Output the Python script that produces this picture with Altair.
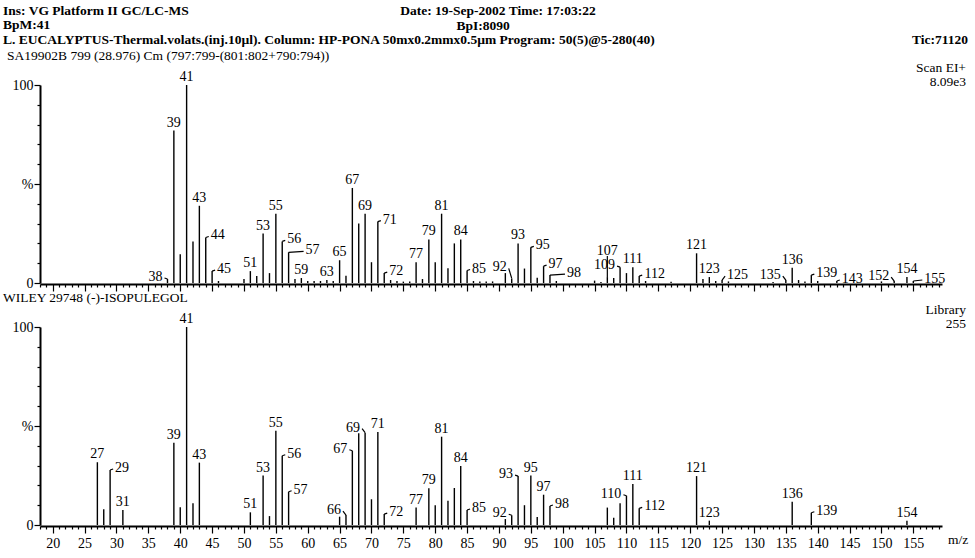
import altair as alt
import pandas as pd

# ---------------- data ----------------
sample_mz = [38, 39, 40, 41, 42, 43, 44, 45, 46, 50, 51, 52, 53, 54, 55, 56, 57, 58, 59, 60,
             61, 62, 63, 64, 65, 66, 67, 68, 69, 70, 71, 72, 73, 74, 75, 76, 77, 78, 79, 80,
             81, 82, 83, 84, 85, 86, 87, 88, 89, 91, 92, 93, 94, 95, 96, 97, 98, 99, 105, 106,
             107, 108, 109, 110, 111, 112, 113, 117, 121, 122, 123, 124, 125, 126, 133, 135, 136, 137, 138, 139,
             140, 143, 150, 152, 154, 155]
sample_int = [2, 77, 14.5, 100, 21, 39, 23, 6, 1, 2, 6, 3.5, 25, 5, 35, 21, 15.5, 2, 2.5, 1,
              1, 1, 1.5, 1, 11.5, 3.7, 48, 30, 35, 10.5, 31, 5, 1.5, 1, 0.7, 0.7, 10.5, 2, 22, 10.5,
              35, 7.5, 20, 22, 6.3, 1, 0.8, 0.8, 0.8, 5, 2.3, 20, 7.3, 18, 2.7, 8.5, 4, 1, 1.2, 0.5,
              3, 2.5, 8, 5, 8, 3.5, 1, 0.6, 15, 2, 3, 1, 1.5, 0.8, 0.5, 1.5, 7.7, 1.5, 0.8, 4,
              1, 1, 0.8, 1, 3, 1]
sample_labels = [38, 39, 41, 43, 44, 45, 51, 53, 55, 56, 57, 59, 63, 65, 67, 69, 71, 72, 77, 79,
                 81, 84, 85, 92, 93, 95, 97, 98, 107, 109, 111, 112, 121, 123, 125, 135, 136, 139,
                 143, 152, 154, 155]

lib_mz = [27, 28, 29, 31, 39, 40, 41, 42, 43, 51, 53, 54, 55, 56, 57, 65, 66, 67, 68, 69,
          70, 71, 72, 77, 79, 80, 81, 82, 83, 84, 85, 91, 92, 93, 94, 95, 96, 97, 98, 107,
          108, 109, 110, 111, 112, 121, 123, 136, 139, 154]
lib_int = [31.7, 8, 27.8, 7.6, 41.6, 9, 100, 11, 31.5, 6.4, 25, 4.5, 47.6, 35, 16.8, 4.2, 5, 37.5, 46.3, 46.6,
           13, 47, 5.5, 8.8, 18.5, 10, 44.6, 12.3, 18.7, 29.8, 7.6, 3, 4.9, 24.7, 10, 25, 4, 15.3, 9.6, 8.8,
           3.7, 11, 14.8, 20.7, 8.4, 24.7, 2.2, 11.8, 6.2, 2.2]
lib_labels = [27, 29, 31, 39, 41, 43, 51, 53, 55, 56, 57, 66, 67, 69, 71, 72, 77, 79, 81, 84,
              85, 92, 93, 95, 97, 98, 110, 111, 112, 121, 123, 136, 139, 154]

x_ticks = list(range(18, 160))
y_ticks = list(range(0, 101, 10))

hdr_ins = "Ins: VG Platform II GC/LC-MS"
hdr_bpm = "BpM:41"
hdr_sample = "L. EUCALYPTUS-Thermal.volats.(inj.10µl). Column: HP-PONA 50mx0.2mmx0.5µm Program: 50(5)@5-280(40)"
hdr_scan = "SA19902B 799 (28.976) Cm (797:799-(801:802+790:794))"
hdr_date = "Date: 19-Sep-2002 Time: 17:03:22"
hdr_bpi = "BpI:8090"
hdr_tic = "Tic:71120"
hdr_mode = "Scan EI+"
hdr_max = "8.09e3"
lib_title = "WILEY 29748 (-)-ISOPULEGOL"
lib_tag = "Library"
lib_max = "255"
x_unit = "m/z"

# ---------------- layout ----------------
W, H = 975, 558
X0, X1 = 40, 942
MZ0, MZ1 = 18, 159.5
TOP = (283, 85)
BOT = (525, 327)
FONT = "Liberation Serif"
LABEL_SIZE = 14
CHAR_W = 7.0
LABEL_H = 11.0
PX_PER_MZ = (X1 - X0) / (MZ1 - MZ0)
PX_PER_PCT = (TOP[0] - TOP[1]) / 100.0


def place_labels(mzs, ints, labelled):
    hpx = {m: v * PX_PER_PCT for m, v in zip(mzs, ints)}
    xpx = {m: (m - MZ0) * PX_PER_MZ for m in mzs}
    order = sorted(labelled, key=lambda m: (-hpx[m], -m))
    boxes, labels, leaders = [], [], []
    for m in order:
        p, h = xpx[m], hpx[m]
        w = CHAR_W * len(str(m)) + 2
        side = w / 2 + 4
        cands = []
        for dx in [0, side, -side, side + 6, -(side + 6), side + 12, -(side + 12)]:
            for dy in range(-2, 70, 3):
                if dx == 0 and dy < 2:
                    continue
                cost = dy + 0.6 * abs(dx) + (1.5 if dx < 0 else 0)
                cands.append((cost, dx, dy))
        cands.sort()
        chosen = (0, 2)
        for _, dx, dy in cands:
            cx, y0 = p + dx, h + dy
            bx0, bx1, by0, by1 = cx - w / 2, cx + w / 2, y0, y0 + LABEL_H
            hit = any(bx0 < a1 + 1 and bx1 > a0 - 1 and by0 < b1 + 2 and by1 > b0 - 2
                      for a0, a1, b0, b1 in boxes)
            if not hit:
                hit = any(q != m and bx0 - 1 < xpx[q] < bx1 + 1 and hpx[q] > by0 - 1 for q in mzs)
            if not hit:
                chosen = (dx, dy)
                break
        dx, dy = chosen
        cx, y0 = p + dx, h + dy
        boxes.append((cx - w / 2, cx + w / 2, y0, y0 + LABEL_H))
        labels.append({"lx": MZ0 + cx / PX_PER_MZ, "ly": y0 / PX_PER_PCT, "txt": str(m)})
        if dx != 0 or dy > 4:
            if dx > 0:
                ex, ey = cx - w / 2 - 1, y0 + 3
            elif dx < 0:
                ex, ey = cx + w / 2 + 1, y0 + 3
            else:
                ex, ey = cx, y0 - 1
            leaders.append({"x": m, "y": ints[mzs.index(m)],
                            "x2": MZ0 + ex / PX_PER_MZ, "y2": ey / PX_PER_PCT})
    return pd.DataFrame(labels), pd.DataFrame(leaders, columns=["x", "y", "x2", "y2"])


def text_mark(s, x, y, size=13.5, bold=True, align="left"):
    return alt.Chart(pd.DataFrame({"t": [s]})).mark_text(
        align=align, baseline="alphabetic", font=FONT, fontSize=size,
        fontWeight="bold" if bold else "normal", color="black"
    ).encode(x=alt.value(x), y=alt.value(y), text="t:N")


def panel(mzs, ints, labelled, yr, show_x_labels):
    xs = alt.Scale(domain=[MZ0, MZ1], range=[X0, X1], nice=False, zero=False)
    ys = alt.Scale(domain=[0, 100], range=[yr[0], yr[1]], nice=False, zero=False)
    x_axis = alt.Axis(
        orient="bottom", offset=yr[0] + 1 - H, values=x_ticks, title=None, grid=False,
        domainColor="black", domainWidth=2, tickColor="black", tickWidth=1.2,
        tickSize={"expr": "datum.value % 5 === 0 ? 7 : 3"},
        labels=show_x_labels,
        labelExpr="datum.value % 5 === 0 ? datum.label : ''",
        labelFont=FONT, labelFontSize=14, labelColor="black", labelPadding=3,
        labelOverlap=False, labelFlush=False,
    )
    y_axis = alt.Axis(
        orient="left", offset=-X0, values=y_ticks, title=None, grid=False,
        domainColor="black", domainWidth=2, tickColor="black", tickWidth=1.2,
        tickSize={"expr": "datum.value % 50 === 0 ? 6 : 3"},
        labelExpr="datum.value === 100 ? '100' : datum.value === 50 ? '%' : datum.value === 0 ? '0' : ''",
        labelFont=FONT, labelFontSize=14, labelColor="black", labelPadding=1,
        labelOverlap=False, labelFlush=False,
    )
    peaks_df = pd.DataFrame({"mz": mzs, "inten": ints})
    lab_df, lead_df = place_labels(mzs, ints, labelled)
    peaks = alt.Chart(peaks_df).mark_rule(color="black", strokeWidth=1.4).encode(
        x=alt.X("mz:Q", scale=xs, axis=x_axis),
        y=alt.Y("inten:Q", scale=ys, axis=y_axis),
        y2=alt.datum(0),
    )
    leaders = alt.Chart(lead_df).mark_rule(color="black", strokeWidth=1.2).encode(
        x=alt.X("x:Q", scale=xs, axis=None), x2="x2:Q",
        y=alt.Y("y:Q", scale=ys, axis=None), y2="y2:Q",
    )
    labels = alt.Chart(lab_df).mark_text(
        align="center", baseline="alphabetic", font=FONT, fontSize=LABEL_SIZE, color="black"
    ).encode(
        x=alt.X("lx:Q", scale=xs, axis=None),
        y=alt.Y("ly:Q", scale=ys, axis=None),
        text="txt:N",
    )
    return [peaks, leaders, labels]


layers = (
    panel(sample_mz, sample_int, sample_labels, TOP, False)
    + panel(lib_mz, lib_int, lib_labels, BOT, True)
    + [
        text_mark(hdr_ins, 3, 15),
        text_mark(hdr_bpm, 3, 29),
        text_mark(hdr_sample, 3, 44),
        text_mark(hdr_scan, 7, 60, bold=False),
        text_mark(hdr_date, 498, 15, align="center"),
        text_mark(hdr_bpi, 483, 30, align="center"),
        text_mark(hdr_tic, 968, 44, align="right"),
        text_mark(hdr_mode, 966, 72, bold=False, align="right"),
        text_mark(hdr_max, 966, 86, bold=False, align="right"),
        text_mark(lib_title, 3, 302, bold=False),
        text_mark(lib_tag, 966, 314, bold=False, align="right"),
        text_mark(lib_max, 966, 328, bold=False, align="right"),
        text_mark(x_unit, 948, 544, bold=False),
    ]
)

chart = alt.layer(*layers).resolve_scale(
    x="independent", y="independent"
).resolve_axis(
    x="independent", y="independent"
).properties(
    width=W, height=H, padding=0, background="white",
    autosize=alt.AutoSizeParams(type="none"),
).configure_view(stroke=None)

chart.save("out.html", embed_options={"renderer": "svg", "actions": False})
